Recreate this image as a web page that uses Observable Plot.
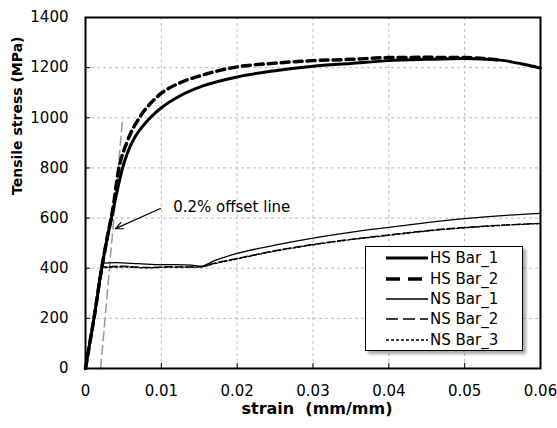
<!DOCTYPE html>
<html>
<head>
<meta charset="utf-8">
<script src="https://cdn.jsdelivr.net/npm/d3@7"></script>
<script src="https://cdn.jsdelivr.net/npm/@observablehq/plot@0.6"></script>
<style>
  html, body { margin: 0; padding: 0; background: #fff; }
  #wrap { position: relative; width: 557px; height: 428px; font-family: "DejaVu Sans", sans-serif; }
  #legend {
    position: absolute; left: 365px; top: 246px; width: 156px; height: 102px;
    border: 1.5px solid #000; background: #fff;
    box-shadow: 3px 3px 3px rgba(0,0,0,0.35);
    font-size: 15px; color: #000; padding-top: 1px;
  }
  .row { display: flex; align-items: center; height: 20.4px; }
  .row svg { margin-left: 20px; margin-right: 2px; }
</style>
</head>
<body>
<div id="wrap"></div>
<script>
// Tensile tests: high-strength (HS) and normal-strength (NS) reinforcing bars
const hs1Strain = [0, 0.0005, 0.0012, 0.002, 0.0028, 0.0036, 0.0043, 0.0048, 0.0055, 0.0065, 0.0075, 0.0086, 0.01, 0.0125, 0.0154, 0.02, 0.025, 0.03, 0.035, 0.04, 0.045, 0.05, 0.0547, 0.057, 0.0597, 0.06];
const hs1Stress = [0, 90, 215, 375, 510, 625, 725, 790, 858, 922, 965, 1002, 1040, 1088, 1126, 1163, 1188, 1206, 1217, 1228, 1233, 1236, 1230, 1218, 1200, 1197];

const hs2Strain = [0, 0.0005, 0.0012, 0.002, 0.0028, 0.0036, 0.00435, 0.0055, 0.0071, 0.0085, 0.01, 0.0125, 0.0154, 0.02, 0.025, 0.03, 0.035, 0.04, 0.045, 0.05, 0.0547];
const hs2Stress = [0, 90, 215, 375, 512, 635, 790, 905, 1000, 1055, 1098, 1140, 1170, 1203, 1218, 1228, 1233, 1240, 1241, 1240, 1230];

const ns1Strain = [0, 0.0005, 0.0012, 0.0019, 0.0022, 0.004, 0.007, 0.01, 0.012, 0.014, 0.0152, 0.017, 0.02, 0.025, 0.03, 0.0349, 0.04, 0.045, 0.05, 0.055, 0.06];
const ns1Stress = [0, 90, 215, 370, 420, 422, 418, 414, 414, 412, 408, 430, 459, 492, 520, 543, 563, 582, 598, 610, 619];

const ns2Strain = [0, 0.0005, 0.0012, 0.0019, 0.0022, 0.005, 0.008, 0.011, 0.013, 0.0152, 0.017, 0.02, 0.025, 0.03, 0.0349, 0.04, 0.045, 0.05, 0.055, 0.06];
const ns2Stress = [0, 90, 215, 370, 405, 408, 403, 406, 405, 406, 420, 439, 470, 495, 515, 533, 550, 563, 572, 579];

const ns3Strain = [0, 0.0005, 0.0012, 0.0019, 0.0022, 0.005, 0.008, 0.011, 0.014, 0.0152, 0.017, 0.02, 0.025, 0.03, 0.035, 0.04, 0.045, 0.05, 0.055, 0.06];
const ns3Stress = [0, 90, 215, 370, 402, 405, 401, 404, 404, 405, 418, 437, 468, 493, 514, 531, 548, 561, 571, 578];

// 0.2% offset line endpoints
const offsetStrain = [0.002, 0.0049];
const offsetStress = [0, 1000];

const xTicks = [0, 0.01, 0.02, 0.03, 0.04, 0.05, 0.06];
const yTicks = [0, 200, 400, 600, 800, 1000, 1200, 1400];

const seriesNames = ["HS Bar_1", "HS Bar_2", "NS Bar_1", "NS Bar_2", "NS Bar_3"];
const seriesStyles = {
  "HS Bar_1": {width: 3, dash: null, legendDash: null},
  "HS Bar_2": {width: 3.5, dash: "8,5", legendDash: "14,8"},
  "NS Bar_1": {width: 1.3, dash: null, legendDash: null},
  "NS Bar_2": {width: 1.3, dash: "8,3", legendDash: "12,5"},
  "NS Bar_3": {width: 1.3, dash: "3,2", legendDash: "3,2"}
};

const zip = (xs, ys) => xs.map((x, i) => ({strain: x, stress: ys[i]}));
const series = {
  "HS Bar_1": zip(hs1Strain, hs1Stress),
  "HS Bar_2": zip(hs2Strain, hs2Stress),
  "NS Bar_1": zip(ns1Strain, ns1Stress),
  "NS Bar_2": zip(ns2Strain, ns2Stress),
  "NS Bar_3": zip(ns3Strain, ns3Stress)
};

const W = 557, H = 428;
const mL = 85, mR = 17, mT = 17, mB = 60;
const innerW = W - mL - mR, innerH = H - mT - mB;
const font = "'DejaVu Sans', sans-serif";

// draw the lower-strength curves first so the HS curves sit on top
const order = ["NS Bar_3", "NS Bar_2", "NS Bar_1", "HS Bar_2", "HS Bar_1"];
const lineMarks = order.map(name => Plot.line(series[name], {
  x: "strain", y: "stress",
  stroke: "#000",
  strokeWidth: seriesStyles[name].width,
  strokeDasharray: seriesStyles[name].dash,
  curve: "monotone-x"
}));

const chart = Plot.plot({
  width: W, height: H,
  marginLeft: mL, marginRight: mR, marginTop: mT, marginBottom: mB,
  style: {fontFamily: font, fontSize: "15px", color: "#000", background: "#fff"},
  x: {domain: [0, 0.06]},
  y: {domain: [0, 1400]},
  marks: [
    Plot.gridX(xTicks.slice(1, -1), {stroke: "#bbb", strokeOpacity: 1, strokeDasharray: "3,3", strokeWidth: 1}),
    Plot.gridY(yTicks.slice(1, -1), {stroke: "#bbb", strokeOpacity: 1, strokeDasharray: "3,3", strokeWidth: 1}),
    Plot.axisX(xTicks, {tickSize: 0, tickPadding: 17, tickFormat: d => String(d), fontSize: 15, label: null}),
    Plot.axisY(yTicks, {tickSize: 0, tickPadding: 17, tickFormat: d => String(d), fontSize: 15, label: null}),
    // inward tick marks
    Plot.tickX(xTicks, {x: d => d, insetTop: innerH - 5, stroke: "#000", strokeWidth: 1}),
    Plot.tickY(yTicks, {y: d => d, insetRight: innerW - 5, stroke: "#000", strokeWidth: 1}),
    // 0.2% offset line
    Plot.line(zip(offsetStrain, offsetStress), {x: "strain", y: "stress", stroke: "#999", strokeWidth: 1.5, strokeDasharray: "9,5"}),
    ...lineMarks,
    Plot.arrow([{x1: 0.00988, y1: 638, x2: 0.00395, y2: 558}], {
      x1: "x1", y1: "y1", x2: "x2", y2: "y2", stroke: "#000", strokeWidth: 1.2, headLength: 10, headAngle: 50
    }),
    Plot.text(["0.2% offset line"], {x: 0.01156, y: 643, text: d => d, textAnchor: "start", fontSize: 15, fill: "#000"}),
    Plot.frame({stroke: "#000", strokeWidth: 2}),
    Plot.text(["strain  (mm/mm)"], {frameAnchor: "bottom", dy: 45, dx: 4, text: d => d, fontSize: 16, fontWeight: "bold", fill: "#000"}),
    Plot.text(["Tensile stress (MPa)"], {frameAnchor: "left", dx: -68, dy: 2, rotate: -90, text: d => d, fontSize: 14, fontWeight: "bold", fill: "#000"})
  ]
});

const wrap = document.getElementById("wrap");
wrap.appendChild(chart);

// legend box with line samples
const legend = document.createElement("div");
legend.id = "legend";
for (const name of seriesNames) {
  const s = seriesStyles[name];
  const row = document.createElement("div");
  row.className = "row";
  const svg = d3.create("svg").attr("width", 42).attr("height", 10);
  svg.append("line")
    .attr("x1", 0).attr("x2", 42).attr("y1", 5).attr("y2", 5)
    .attr("stroke", "#000").attr("stroke-width", s.width)
    .attr("stroke-dasharray", s.legendDash);
  row.appendChild(svg.node());
  const label = document.createElement("span");
  label.textContent = name;
  row.appendChild(label);
  legend.appendChild(row);
}
wrap.appendChild(legend);
</script>
</body>
</html>
